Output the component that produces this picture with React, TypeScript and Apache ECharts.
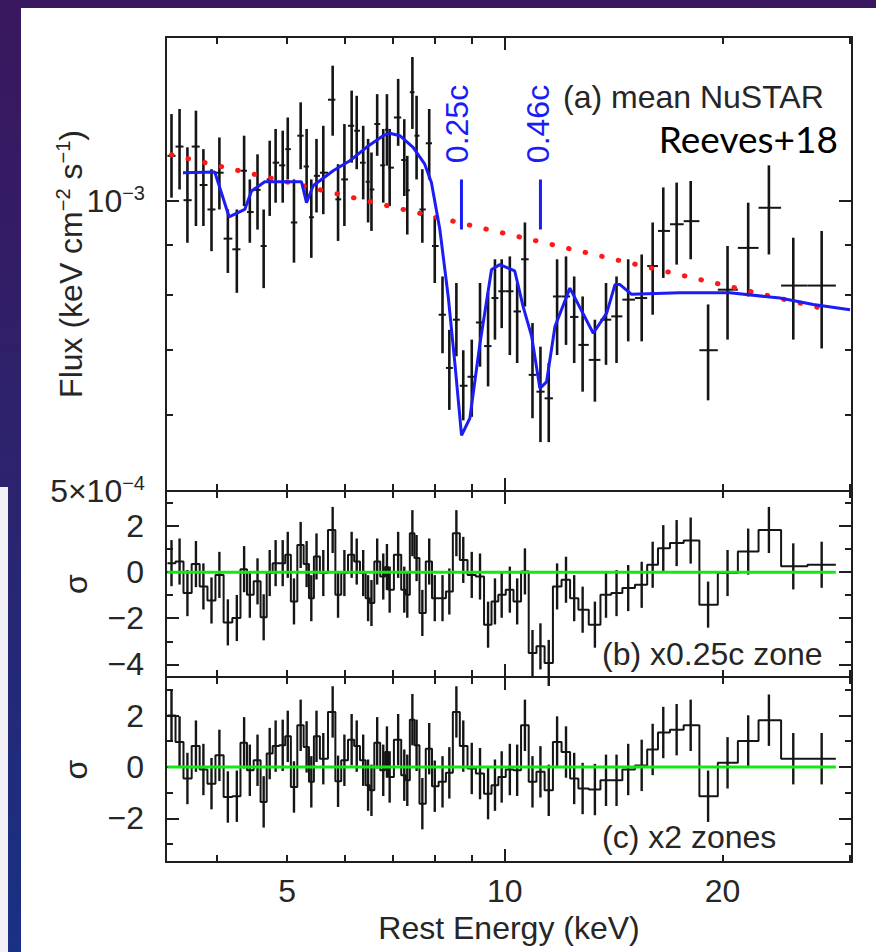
import React, { useEffect, useRef } from 'react';
import * as echarts from 'echarts';

// ---------- data (energies in keV, fluxes in units of 1e-3 keV cm^-2 s^-1) ----------
const FLUX_UNIT = 1e-3;

const energyKeV = [
  3.46, 3.55, 3.64, 3.74, 3.83, 3.93, 4.03, 4.14, 4.26, 4.36, 4.44, 4.55, 4.64, 4.73, 4.82, 4.93,
  5.01, 5.11, 5.22, 5.32, 5.40, 5.49, 5.61, 5.78, 5.88, 6.00, 6.14, 6.24, 6.37, 6.47, 6.54, 6.66,
  6.79, 6.87, 6.93, 7.12, 7.26, 7.33, 7.45, 7.55, 7.69, 7.86, 8.00, 8.20, 8.38, 8.57, 8.76, 9.00,
  9.24, 9.48, 9.69, 9.90, 10.16, 10.40, 10.66, 10.92, 11.20, 11.50, 11.81, 12.15, 12.47, 12.81,
  13.32, 13.80, 14.27, 14.81, 15.46, 16.01, 16.56, 17.28, 18.07, 19.10, 20.32, 21.70, 23.18,
  25.05, 27.42,
];
const fluxE3 = [
  1.114, 1.139, 1.002, 1.139, 1.039, 0.980, 1.070, 0.914, 0.891, 1.075, 0.974, 1.027, 0.898, 1.053,
  1.096, 1.089, 1.132, 0.950, 1.169, 1.086, 0.962, 1.062, 1.070, 1.274, 1.004, 1.053, 1.197, 1.183,
  1.096, 1.047, 1.028, 1.202, 1.089, 1.186, 1.083, 1.221, 1.103, 1.026, 1.297, 1.169, 0.980, 1.148,
  0.898, 0.762, 0.671, 0.753, 0.643, 0.657, 0.748, 0.707, 0.793, 0.806, 0.806, 0.768, 0.870, 0.660,
  0.634, 0.624, 0.796, 0.796, 0.758, 0.709, 0.684, 0.753, 0.759, 0.790, 0.793, 0.856, 0.931, 0.946,
  0.953, 0.700, 0.809, 0.894, 0.984, 0.817, 0.817,
];
const fluxLoE3 = [
  1.008, 1.028, 0.905, 0.942, 0.942, 0.887, 0.980, 0.842, 0.803, 0.988, 0.905, 0.934, 0.812, 0.965,
  0.996, 0.996, 1.053, 0.863, 1.079, 0.996, 0.873, 0.973, 0.969, 1.169, 0.909, 0.942, 1.096, 1.079,
  1.004, 0.950, 0.931, 1.114, 0.996, 1.088, 0.988, 1.141, 1.012, 0.923, 1.188, 1.053, 0.905, 1.053,
  0.822, 0.695, 0.607, 0.690, 0.592, 0.597, 0.673, 0.642, 0.718, 0.738, 0.692, 0.679, 0.777, 0.595,
  0.562, 0.562, 0.692, 0.709, 0.679, 0.634, 0.619, 0.676, 0.679, 0.715, 0.715, 0.762, 0.832, 0.859,
  0.870, 0.621, 0.718, 0.796, 0.880, 0.718, 0.703,
];
const fluxHiE3 = [
  1.231, 1.246, 1.137, 1.241, 1.132, 1.079, 1.164, 0.980, 0.980, 1.169, 1.053, 1.118, 0.980, 1.155,
  1.188, 1.183, 1.221, 1.053, 1.266, 1.188, 1.053, 1.160, 1.197, 1.382, 1.092, 1.202, 1.302, 1.286,
  1.197, 1.160, 1.123, 1.291, 1.188, 1.291, 1.188, 1.339, 1.216, 1.114, 1.411, 1.286, 1.079, 1.246,
  0.965, 0.835, 0.735, 0.822, 0.700, 0.718, 0.822, 0.803, 0.870, 0.870, 0.876, 0.822, 0.950, 0.747,
  0.706, 0.679, 0.870, 0.876, 0.835, 0.796, 0.753, 0.822, 0.835, 0.870, 0.880, 0.950, 1.033, 1.045,
  1.049, 0.781, 0.898, 0.996, 1.089, 0.916, 0.931,
];
// residuals (sigma) for the x0.25c-zone model (b) and the two-zone model (c)
const residB = [
  0.39, 0.46, -0.91, 0.35, -0.62, -1.23, -0.12, -2.18, -1.99, 0.13, -0.98, -0.40, -1.96, -0.04,
  0.39, 0.39, 0.75, -1.27, 1.18, 0.35, -1.13, 0.68, -0.04, 1.83, -0.98, -0.04, 0.75, 0.46, -0.04,
  -1.13, -1.34, 0.46, -0.19, 0.22, -0.76, 0.75, -0.76, -0.98, 1.69, 0.61, -1.77, 0.46, -1.13, -1.13,
  -0.84, 1.69, 0.53, -0.12, -0.19, -2.28, -1.27, -0.98, -0.76, -1.27, 0.03, -3.51, -3.22, -3.94,
  -0.62, -0.33, -1.13, -1.63, -2.28, -0.98, -0.91, -0.69, -0.55, 0.32, 1.04, 1.26, 1.37, -1.41,
  -0.04, 0.89, 1.83, 0.25, 0.32,
];
const residC = [
  2.0, 0.97, -0.45, 0.81, -0.10, -0.65, 0.45, -1.17, -1.14, 0.94, -0.13, 0.26, -1.36, 0.52, 0.81,
  0.84, 1.19, -0.78, 1.62, 0.78, -0.58, 1.19, 0.32, 2.14, -0.56, 0.26, 1.06, 0.81, 0.26, -0.71,
  -0.91, 0.94, -0.13, 0.58, -0.39, 1.06, -0.32, -0.52, 1.84, 0.84, -1.43, 0.71, -0.75, -0.58, -0.23,
  2.14, 0.81, -0.06, -0.26, -1.04, -0.71, -0.39, -0.10, -0.13, 1.62, -0.58, -0.19, -0.91, 0.97,
  0.58, -0.45, -0.84, -0.88, -0.52, -0.52, -0.10, 0.06, 0.68, 1.34, 1.45, 1.62, -1.14, 0.16, 1.01,
  1.82, 0.32, 0.32,
];
// best-fit absorbed model (blue) and continuum (red dotted)
const modelEnergy = [
  3.589, 3.971, 4.156, 4.369, 4.464, 4.656, 5.234, 5.318, 5.431, 5.789, 6.105, 6.437, 6.787, 6.933,
  7.158, 7.467, 7.749, 7.915, 8.131, 8.350, 8.528, 8.712, 8.946, 9.235, 9.585, 9.842, 10.32, 10.60,
  10.89, 11.18, 11.42, 11.73, 12.30, 13.25, 13.83, 14.20, 14.43, 14.97, 17.46, 20.47, 24.01, 26.70,
  30.01,
];
const modelFluxE3 = [
  1.070, 1.072, 0.963, 0.980, 1.024, 1.047, 1.047, 0.996, 1.037, 1.075, 1.101, 1.137, 1.169, 1.176,
  1.169, 1.137, 1.092, 1.045, 0.934, 0.796, 0.679, 0.571, 0.595, 0.710, 0.849, 0.859, 0.846, 0.777,
  0.724, 0.639, 0.649, 0.741, 0.812, 0.729, 0.765, 0.819, 0.819, 0.800, 0.803, 0.803, 0.793, 0.781,
  0.771,
];
const contEnergy = [3.46, 27.4];
const contFluxE3 = [1.117, 0.774];
// outflow velocity markers
const velEnergy = [8.71, 11.2];
const velLabels = ['0.25c', '0.46c'];
const velFluxTopE3 = 1.053;
const velFluxBotE3 = 0.934;

// axis ranges and ticks
const energyRange = [3.4, 30.2];
const fluxRange = [5e-4, 1.48e-3];
const sigmaRangeB = [-4.55, 3.52];
const sigmaRangeC = [-3.7, 3.5];
const xMinorTicks = [4, 5, 6, 7, 8, 9, 20, 30];
const xMajorTicks = [10];
const xTickLabels = [5, 10, 20];
const fluxMinorTicks = [6e-4, 7e-4, 8e-4, 9e-4];
const fluxMajorTicks = [1e-3];
const fluxTickLabels = [5e-4, 1e-3];
const sigmaMinorTicks = [-3, -1, 1, 3];
const sigmaMajorTicks = [-4, -2, 0, 2];
const sigmaLabelsB = [-4, -2, 0, 2];
const sigmaLabelsC = [-2, 0, 2];

// ---------- option ----------
const FONT = "'Liberation Sans', Arial, Helvetica, sans-serif";
const INK = '#262626';
const FRAME = '#1e1e1e';
const BLUE = '#1c1cf5';
const lg = Math.log10;

function buildOption() {
  const n = energyKeV.length;
  const lx = energyKeV.map(lg);
  const edges: number[] = [lx[0] - (lx[1] - lx[0]) / 2];
  for (let i = 1; i < n; i++) edges.push((lx[i - 1] + lx[i]) / 2);
  edges.push(lx[n - 1] + (lx[n - 1] - lx[n - 2]) / 2);

  const xr = energyRange.map(lg);
  const yr = fluxRange.map(lg);
  const lf = (v: number) => lg(v * FLUX_UNIT);

  const tickStyle = { color: FRAME, width: 2 };
  const mkAxis = (gridIndex: number, position: string, min: number, max: number, ticks: number[], len: number, line: boolean, extra: any = {}) => ({
    type: 'value', gridIndex, position, min, max,
    nameMoveOverlap: false,
    splitLine: { show: false },
    axisLine: { show: line, onZero: false, lineStyle: { color: FRAME, width: 2 } },
    axisTick: { show: true, inside: true, length: len, customValues: ticks, lineStyle: tickStyle },
    axisLabel: { show: false },
    ...extra,
  });

  const textBase = { color: INK, fontFamily: FONT, fontSize: 32 };
  const xAxis: any[] = [];
  const yAxis: any[] = [];
  const yRanges = [yr, sigmaRangeB, sigmaRangeC];
  for (let g = 0; g < 3; g++) {
    const bottomExtra = g === 2 ? {
      axisLabel: {
        show: true, customValues: xTickLabels.map(lg), margin: 13, ...textBase,
        formatter: (v: number) => String(Math.round(Math.pow(10, v))),
      },
      name: 'Rest Energy (keV)', nameLocation: 'middle', nameGap: 50, nameTextStyle: { ...textBase },
    } : {};
    xAxis.push(mkAxis(g, 'bottom', xr[0], xr[1], xMinorTicks.map(lg), 7, true, bottomExtra));
    xAxis.push(mkAxis(g, 'bottom', xr[0], xr[1], xMajorTicks.map(lg), 13, false));
    xAxis.push(mkAxis(g, 'top', xr[0], xr[1], xMinorTicks.map(lg), 7, true));
    xAxis.push(mkAxis(g, 'top', xr[0], xr[1], xMajorTicks.map(lg), 13, false));

    const [ymin, ymax] = yRanges[g];
    const minor = g === 0 ? fluxMinorTicks.map(lg) : sigmaMinorTicks;
    const major = g === 0 ? fluxMajorTicks.map(lg) : sigmaMajorTicks;
    let leftExtra: any;
    if (g === 0) {
      leftExtra = {
        axisLabel: {
          show: true, customValues: fluxTickLabels.map(lg), margin: 21, ...textBase,
          formatter: (v: number) => (Math.abs(v - lg(1e-3)) < 1e-6 ? '{m|10}{s|−3}' : '{m|5×10}{s|−4}'),
          rich: {
            m: { ...textBase, lineHeight: 36 },
            s: { color: INK, fontFamily: FONT, fontSize: 20, lineHeight: 20, verticalAlign: 'top' },
          },
        },
        name: 'Flux (keV cm{s|−2} s{s|−1})', nameLocation: 'middle', nameGap: 77,
        nameTextStyle: {
          ...textBase, lineHeight: 36,
          rich: { s: { color: INK, fontFamily: FONT, fontSize: 20, lineHeight: 20, verticalAlign: 'top' } },
        },
      };
    } else {
      leftExtra = {
        axisLabel: {
          show: true, customValues: g === 1 ? sigmaLabelsB : sigmaLabelsC, margin: 22, ...textBase,
          formatter: (v: number) => (v < 0 ? '−' + Math.abs(v) : String(v)),
        },
        name: 'σ', nameLocation: 'middle', nameGap: 74, nameTextStyle: { ...textBase },
      };
    }
    yAxis.push(mkAxis(g, 'left', ymin, ymax, minor, 7, true, leftExtra));
    yAxis.push(mkAxis(g, 'left', ymin, ymax, major, 13, false));
    yAxis.push(mkAxis(g, 'right', ymin, ymax, minor, 7, true));
    yAxis.push(mkAxis(g, 'right', ymin, ymax, major, 13, false));
  }

  const series: any[] = [];
  // data points with error bars
  series.push({
    type: 'custom', xAxisIndex: 0, yAxisIndex: 0, z: 2,
    encode: { x: [0, 4, 5], y: [1, 2, 3] },
    data: energyKeV.map((_, i) => [lx[i], lf(fluxE3[i]), lf(fluxLoE3[i]), lf(fluxHiE3[i]), edges[i], edges[i + 1]]),
    renderItem: (_p: any, api: any) => {
      const c = api.coord([api.value(0), api.value(1)]);
      const lo = api.coord([api.value(0), api.value(2)]);
      const hi = api.coord([api.value(0), api.value(3)]);
      const l = api.coord([api.value(4), api.value(1)]);
      const r = api.coord([api.value(5), api.value(1)]);
      return {
        type: 'group',
        children: [
          { type: 'line', shape: { x1: c[0], y1: hi[1], x2: c[0], y2: lo[1] }, style: { stroke: '#151515', lineWidth: 2.6 } },
          { type: 'line', shape: { x1: l[0], y1: c[1], x2: r[0], y2: c[1] }, style: { stroke: '#151515', lineWidth: 2 } },
        ],
      };
    },
  });
  // continuum
  series.push({
    type: 'line', xAxisIndex: 0, yAxisIndex: 0, z: 3, symbol: 'none', silent: true,
    data: contEnergy.map((e, i) => [lg(e), lf(contFluxE3[i])]),
    lineStyle: { color: '#ff1818', width: 5, type: [0.5, 16.5], cap: 'round' },
  });
  // model
  series.push({
    type: 'line', xAxisIndex: 0, yAxisIndex: 0, z: 4, symbol: 'none', silent: true, clip: true,
    data: modelEnergy.map((e, i) => [lg(e), lf(modelFluxE3[i])]),
    lineStyle: { color: BLUE, width: 3 },
  });
  // velocity markers
  velEnergy.forEach((e) => {
    series.push({
      type: 'line', xAxisIndex: 0, yAxisIndex: 0, z: 4, symbol: 'none', silent: true,
      data: [[lg(e), lf(velFluxTopE3)], [lg(e), lf(velFluxBotE3)]],
      lineStyle: { color: BLUE, width: 3 },
    });
  });

  // residual panels
  [residB, residC].forEach((res, k) => {
    const g = k + 1;
    const step: number[][] = [];
    res.forEach((r, i) => { step.push([edges[i], r]); step.push([edges[i + 1], r]); });
    series.push({
      type: 'line', xAxisIndex: g * 4, yAxisIndex: g * 4, z: 2, symbol: 'none', silent: true,
      data: step, lineStyle: { color: '#151515', width: 2 },
    });
    series.push({
      type: 'custom', xAxisIndex: g * 4, yAxisIndex: g * 4, z: 2,
      encode: { x: 0, y: [1, 2] },
      data: res.map((r, i) => [lx[i], r - 1, r + 1]),
      renderItem: (_p: any, api: any) => {
        const a = api.coord([api.value(0), api.value(1)]);
        const b = api.coord([api.value(0), api.value(2)]);
        return { type: 'line', shape: { x1: a[0], y1: a[1], x2: b[0], y2: b[1] }, style: { stroke: '#151515', lineWidth: 2.4 } };
      },
    });
    series.push({
      type: 'line', xAxisIndex: g * 4, yAxisIndex: g * 4, z: 5, symbol: 'none', silent: true,
      data: [[edges[0], 0], [edges[n], 0]], lineStyle: { color: '#12e812', width: 3 },
    });
  });

  const label = (text: string, x: number, y: number, align: string, extra: any = {}) => ({
    type: 'text', x, y, z: 10, ...extra,
    style: { text, fill: INK, fontSize: 32, fontFamily: FONT, textAlign: align, textVerticalAlign: 'middle', ...(extra.style || {}) },
  });

  return {
    animation: false,
    grid: [
      { left: 166, top: 37, width: 686, height: 454 },
      { left: 166, top: 491, width: 686, height: 186 },
      { left: 166, top: 677, width: 686, height: 185 },
    ],
    xAxis, yAxis, series,
    graphic: [
      label('(a) mean NuSTAR', 563, 97, 'left'),
      label('Reeves+18', 838, 138, 'right', { style: { fill: '#000', fontSize: 37, fontFamily: "Lato, 'Open Sans', sans-serif" } }),
      label('(b) x0.25c zone', 602, 654, 'left'),
      label('(c) x2 zones', 602, 837, 'left'),
      label(velLabels[0], 457, 124, 'center', { rotation: Math.PI / 2, style: { fill: BLUE } }),
      label(velLabels[1], 538, 124, 'center', { rotation: Math.PI / 2, style: { fill: BLUE } }),
    ],
  };
}

export default function App() {
  const ref = useRef<HTMLDivElement>(null);
  useEffect(() => {
    const chart = echarts.init(ref.current as HTMLDivElement, null, { renderer: 'svg' });
    chart.setOption(buildOption() as any);
    return () => chart.dispose();
  }, []);
  return (
    <div style={{ position: 'absolute', left: 0, top: 0, width: 876, height: 952, overflow: 'hidden', background: 'linear-gradient(180deg, #3a175e 0%, #2c236e 50%, #193184 100%)' }}>
      <div style={{ position: 'absolute', left: 21, top: 8, right: 0, bottom: 0, background: '#ffffff' }} />
      <div style={{ position: 'absolute', left: 0, top: 487, width: 8, bottom: 0, background: '#f2f2f6' }} />
      <div ref={ref} style={{ position: 'absolute', left: 0, top: 0, width: 876, height: 952 }} />
    </div>
  );
}
